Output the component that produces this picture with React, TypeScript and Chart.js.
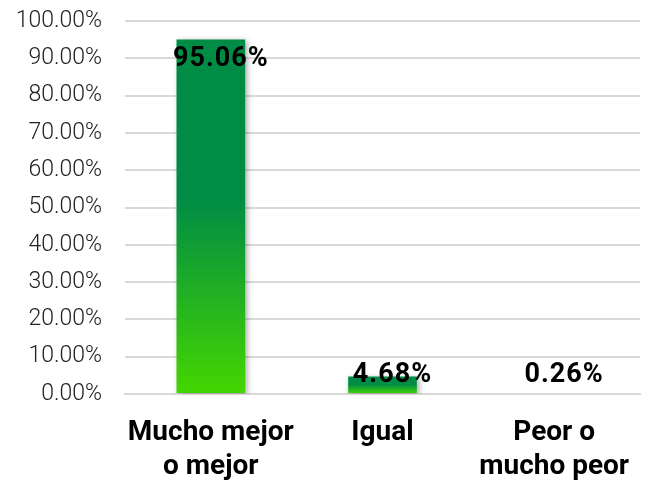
import React, { useEffect, useRef } from "react";
import { Chart, registerables } from "chart.js";

Chart.register(...registerables);

const categories: string[][] = [["Mucho mejor", "o mejor"], ["Igual"], ["Peor o", "mucho peor"]];
const values: number[] = [95.06, 4.68, 0.26];
const labels: string[] = ["95.06%", "4.68%", "0.26%"];

const DARK = "#008C45";
const LIME = "#45D600";

export default function App() {
  const ref = useRef<HTMLCanvasElement | null>(null);
  useEffect(() => {
    if (!ref.current) return;
    const shadowPlugin = {
      id: "shadow",
      beforeDatasetsDraw(chart: any) {
        const c = chart.ctx;
        c.save();
        c.shadowColor = "rgba(0,0,0,0.35)";
        c.shadowBlur = 6;
        c.shadowOffsetX = 2;
        c.shadowOffsetY = 2;
      },
      afterDatasetsDraw(chart: any) {
        chart.ctx.restore();
        const c = chart.ctx;
        const meta = chart.getDatasetMeta(0);
        c.save();
        c.font = "bold 27px Roboto";
        (c as any).letterSpacing = "1px";
        c.fillStyle = "#000";
        c.textAlign = "center";
        c.textBaseline = "middle";
        meta.data.forEach((bar: any, i: number) => {
          const y = Math.min(bar.y + 20, bar.base - 18);
          c.fillText(labels[i], bar.x + 10, y);
        });
        c.restore();
      },
    };
    const chart = new Chart(ref.current, {
      type: "bar",
      data: {
        labels: categories,
        datasets: [
          {
            data: values,
            barPercentage: 0.8,
            categoryPercentage: 0.5,
            backgroundColor: (ctx: any) => {
              const ch = ctx.chart;
              const ys = ch.scales && ch.scales.y;
              if (!ys || !ch.chartArea) return DARK;
              const top = ys.getPixelForValue(ctx.raw);
              const bottom = ys.getPixelForValue(0);
              if (bottom - top < 1) return DARK;
              const g = ch.ctx.createLinearGradient(0, top, 0, bottom);
              g.addColorStop(0, DARK);
              g.addColorStop(0.45, DARK);
              g.addColorStop(1, LIME);
              return g;
            },
          },
        ],
      },
      options: {
        responsive: false,
        animation: false,
        layout: { padding: { top: 21, right: 5, left: 0, bottom: 0 } },
        plugins: { legend: { display: false }, tooltip: { enabled: false } },
        scales: {
          x: {
            grid: { display: false, drawTicks: false },
            border: { display: true, color: "#d9d9d9", width: 2 },
            ticks: {
              color: "#000",
              font: { family: "Roboto", size: 28, weight: "bold", lineHeight: "34px" } as any,
              padding: 22,
              maxRotation: 0,
              autoSkip: false,
            },
            afterFit: (s: any) => {
              s.height = 91;
              s.paddingLeft = 0;
              s.paddingRight = 0;
            },
          },
          y: {
            min: 0,
            max: 100,
            ticks: {
              stepSize: 10,
              color: "#222",
              font: { family: "Roboto", size: 23, weight: 300 } as any,
              padding: 23,
              callback: (v: any) => Number(v).toFixed(2) + "%",
            },
            grid: { color: "#d9d9d9", lineWidth: 2, drawTicks: false },
            border: { display: false },
            afterFit: (s: any) => {
              s.width = 125;
              s.paddingTop = 0;
              s.paddingBottom = 0;
            },
          },
        },
      },
      plugins: [shadowPlugin],
    });
    return () => chart.destroy();
  }, []);
  return (
    <div style={{ position: "fixed", left: 0, top: 0, width: 645, height: 485, background: "#fff" }}>
      <canvas ref={ref} width={645} height={485} />
    </div>
  );
}
